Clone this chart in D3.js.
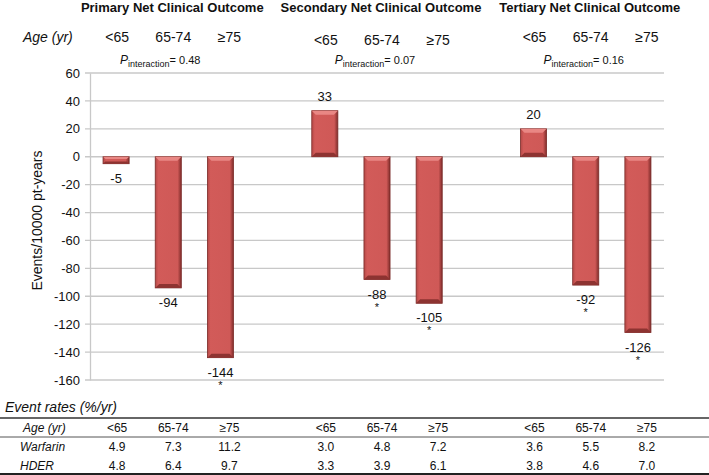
<!DOCTYPE html>
<html>
<head>
<meta charset="utf-8">
<script src="https://cdn.jsdelivr.net/npm/d3@7"></script>
<style>
  body { margin: 0; background: #fff; }
  text { font-family: "Liberation Sans", Arial, sans-serif; fill: #111; }
</style>
</head>
<body>
<div id="chart"></div>
<script>
// DATA
const outcomes = ["Primary Net Clinical Outcome", "Secondary Net Clinical Outcome", "Tertiary Net Clinical Outcome"]
const ageGroups = ["<65", "65-74", "≥75"]
const netValues = [[-5, -94, -144], [33, -88, -105], [20, -92, -126]]
const significant = [[false, false, true], [false, true, true], [false, true, true]]
const pInteraction = ["0.48", "0.07", "0.16"]
const warfarinRates = [["4.9", "7.3", "11.2"], ["3.0", "4.8", "7.2"], ["3.6", "5.5", "8.2"]]
const hderRates = [["4.8", "6.4", "9.7"], ["3.3", "3.9", "6.1"], ["3.8", "4.6", "7.0"]]
const yTicks = d3.range(-160, 61, 20)

// CONSTANTS
const width = 709
const height = 475
const plot = { left: 90, right: 664, top: 73, bottom: 380 }
const ageOffset = [1, 5, 9]

const svg = d3.select("#chart").append("svg").attr("width", width).attr("height", height)

// flat list of bars, with an empty slot between groups
let slots = []
let bars = []
outcomes.forEach((o, g) => {
  ageGroups.forEach((a, i) => {
    slots.push(g + "-" + i)
    bars.push({ key: g + "-" + i, g: g, i: i, value: netValues[g][i], star: significant[g][i] })
  })
  if (g < outcomes.length - 1) slots.push("gap" + g)
})

const x = d3.scaleBand().domain(slots).range([plot.left, plot.right]).paddingInner(0.5).paddingOuter(0.25)
const y = d3.scaleLinear().domain([-160, 60]).range([plot.bottom, plot.top])
const cx = k => x(k) + x.bandwidth() / 2
const groupCenter = g => cx(g + "-1")

// GRID + AXIS
const grid = svg.append("g")
grid.selectAll("line").data(yTicks).join("line")
  .attr("x1", plot.left - 5).attr("x2", plot.right)
  .attr("y1", d => y(d)).attr("y2", d => y(d))
  .attr("stroke", "#c8c8c8").attr("stroke-width", 1.3)

const yAxis = d3.axisLeft(y).tickValues(yTicks).tickSize(0).tickPadding(10).tickFormat(d => String(d))
const yAxisGroup = svg.append("g").attr("transform", `translate(${plot.left},0)`).call(yAxis)
yAxisGroup.select(".domain").attr("stroke", "#c8c8c8").attr("stroke-width", 1.3)
yAxisGroup.selectAll("text").style("font-size", "13px").style("font-family", "Liberation Sans, Arial, sans-serif").attr("fill", "#111")

svg.append("text")
  .attr("transform", `translate(42, ${(y(0) + y(-100)) / 2 - 6}) rotate(-90)`)
  .attr("text-anchor", "middle").style("font-size", "14px")
  .text("Events/10000 pt-years")

// BAR GRADIENTS
const defs = svg.append("defs")
const grad = defs.append("linearGradient").attr("id", "barGrad").attr("x1", 0).attr("x2", 1).attr("y1", 0).attr("y2", 0)
grad.append("stop").attr("offset", "0%").attr("stop-color", "#b44846")
grad.append("stop").attr("offset", "12%").attr("stop-color", "#d25b59")
grad.append("stop").attr("offset", "86%").attr("stop-color", "#cf5957")
grad.append("stop").attr("offset", "100%").attr("stop-color", "#7f2c2a")

const barGroup = svg.append("g")
const bw = x.bandwidth()
bars.forEach(d => {
  const x0 = x(d.key)
  const yTop = y(Math.max(0, d.value))
  const yBot = y(Math.min(0, d.value))
  const h = yBot - yTop
  barGroup.append("rect")
    .attr("x", x0).attr("y", yTop).attr("width", bw).attr("height", h)
    .attr("fill", "url(#barGrad)").attr("stroke", "#7a2b29").attr("stroke-width", 0.8)
  const b = Math.min(4, h / 3)
  // top bevel
  barGroup.append("path")
    .attr("d", `M${x0},${yTop} L${x0 + bw},${yTop} L${x0 + bw - b},${yTop + b} L${x0 + b},${yTop + b} Z`)
    .attr("fill", "#e98784")
  // bottom bevel
  barGroup.append("path")
    .attr("d", `M${x0},${yBot} L${x0 + bw},${yBot} L${x0 + bw - b},${yBot - b} L${x0 + b},${yBot - b} Z`)
    .attr("fill", "#8d3331")
})

// VALUE LABELS
const labels = svg.append("g").style("font-size", "13px")
bars.forEach(d => {
  const pos = d.value >= 0
  labels.append("text")
    .attr("x", cx(d.key))
    .attr("y", pos ? y(d.value) - 10 : y(d.value) + 19)
    .attr("text-anchor", "middle")
    .text(d.value)
  if (d.star) {
    labels.append("text")
      .attr("x", cx(d.key))
      .attr("y", y(d.value) + 31)
      .attr("text-anchor", "middle").style("font-size", "11px")
      .text("*")
  }
})

// HEADERS
outcomes.forEach((o, g) => {
  svg.append("text")
    .attr("x", groupCenter(g) + 4).attr("y", 12)
    .attr("text-anchor", "middle").style("font-size", "13px").style("font-weight", "bold")
    .text(o)
  ageGroups.forEach((a, i) => {
    svg.append("text")
      .attr("x", cx(g + "-" + i) + ageOffset[i]).attr("y", g === 1 ? 45 : 42)
      .attr("text-anchor", "middle").style("font-size", "14px")
      .text(a)
  })
  const p = svg.append("text")
    .attr("x", groupCenter(g) - (g === 0 ? 8 : 2)).attr("y", 64)
    .attr("text-anchor", "middle").style("font-size", "11px")
  p.append("tspan").style("font-style", "italic").style("font-size", "12px").text("P")
  p.append("tspan").attr("dy", 3).style("font-size", "9px").text("interaction")
  p.append("tspan").attr("dy", -3).text("= " + pInteraction[g])
})

svg.append("text")
  .attr("x", 23).attr("y", 42)
  .style("font-size", "14px").style("font-style", "italic")
  .text("Age (yr)")

// TABLE
svg.append("text")
  .attr("x", 5).attr("y", 412)
  .style("font-size", "14px").style("font-style", "italic")
  .text("Event rates (%/yr)")

svg.append("line").attr("x1", 0).attr("x2", width).attr("y1", 418).attr("y2", 418)
  .attr("stroke", "#333").attr("stroke-width", 1.6)
svg.append("line").attr("x1", 0).attr("x2", width).attr("y1", 437).attr("y2", 437)
  .attr("stroke", "#555").attr("stroke-width", 1)
svg.append("line").attr("x1", 0).attr("x2", width).attr("y1", 474).attr("y2", 474)
  .attr("stroke", "#222").attr("stroke-width", 2)

const rows = [
  { name: "Age (yr)", y: 432, cells: outcomes.map(() => ageGroups), left: 23 },
  { name: "Warfarin", y: 451, cells: warfarinRates, left: 20 },
  { name: "HDER", y: 470, cells: hderRates, left: 20 }
]
rows.forEach(r => {
  svg.append("text")
    .attr("x", r.left).attr("y", r.y)
    .style("font-size", "12px").style("font-style", "italic")
    .text(r.name)
  outcomes.forEach((o, g) => {
    ageGroups.forEach((a, i) => {
      svg.append("text")
        .attr("x", cx(g + "-" + i) + ageOffset[i]).attr("y", r.y)
        .attr("text-anchor", "middle").style("font-size", "12px")
        .text(r.cells[g][i])
    })
  })
})
</script>
</body>
</html>
